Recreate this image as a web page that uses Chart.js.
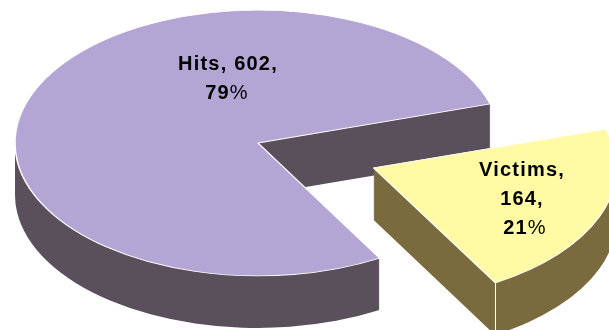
<!DOCTYPE html>
<html>
<head>
<meta charset="utf-8">
<style>
  html, body { margin: 0; padding: 0; background: #fff; overflow: hidden; }
  canvas { display: block; }
</style>
<script src="https://cdn.jsdelivr.net/npm/chart.js@4/dist/chart.umd.min.js"></script>
</head>
<body>
<canvas id="pie" width="609" height="330"></canvas>
<script>
const categories = ['Hits', 'Victims'];
const values = [602, 164];
const topColors = ['#B3A6D4', '#FFFAA3'];
const wallColors = ['#5A505C', '#7A6B3E'];

const total = values.reduce((a, b) => a + b, 0);
const percent = v => Math.round(v / total * 100);

// Squash factor of the pie, thickness of its side wall, pie radius
const TILT = 0.547;
const DEPTH = 52;
const RADIUS = 243;
// How far the second slice is pulled out from the centre
const PULL = 124;

// Text block for each slice: centre x, first line middle, line step, centre x of the percent line
const labelSpots = [
    { x: 228, y: 64, step: 29, pctX: 227, lines: i => [`${categories[i]}, ${values[i]},`] },
    { x: 522, y: 170, step: 29, pctX: 525, lines: i => [`${categories[i]},`, `${values[i]},`] }
];

// Where a slice apex ends up once its offset is applied (Chart.js moves by offset / 4)
function sliceOrigin(arc) {
    const mid = (arc.startAngle + arc.endAngle) / 2;
    const move = (arc.options.offset || 0) / 4;
    return { x: arc.x + Math.cos(mid) * move, y: arc.y + Math.sin(mid) * move };
}

const tiltedPie = {
    id: 'tiltedPie',
    // Arc elements grow a little with their offset when drawn, take that back so both slices keep one radius
    afterDatasetsUpdate(chart) {
        chart.getDatasetMeta(0).data.forEach(arc => {
            const move = (arc.options.offset || 0) / 4;
            const fix = 1 - Math.sin(Math.min(Math.PI, arc.circumference));
            arc.outerRadius = RADIUS - move * fix;
        });
    },
    beforeDatasetsDraw(chart) {
        const ctx = chart.ctx;
        const arcs = chart.getDatasetMeta(0).data;
        const cy = arcs[0].y;

        // Walls are the slices repeated downward as one path, tops get painted over them afterwards
        arcs.forEach((arc, i) => {
            const o = sliceOrigin(arc);
            ctx.beginPath();
            for (let d = DEPTH; d > 0; d--) {
                ctx.save();
                ctx.translate(0, cy + d);
                ctx.scale(1, TILT);
                ctx.translate(0, -cy);
                ctx.moveTo(o.x, o.y);
                ctx.arc(o.x, o.y, RADIUS, arc.startAngle, arc.endAngle);
                ctx.closePath();
                ctx.restore();
            }
            ctx.fillStyle = wallColors[i];
            ctx.fill();
        });

        ctx.save();
        ctx.translate(0, cy);
        ctx.scale(1, TILT);
        ctx.translate(0, -cy);
    },
    afterDatasetsDraw(chart) {
        const ctx = chart.ctx;
        ctx.restore();

        const arcs = chart.getDatasetMeta(0).data;
        const cy = arcs[0].y;

        // Corner seam on the pulled out slice
        const o = sliceOrigin(arcs[1]);
        const tipX = o.x + Math.cos(arcs[1].endAngle) * RADIUS;
        const tipY = cy + (o.y - cy + Math.sin(arcs[1].endAngle) * RADIUS) * TILT;
        ctx.save();
        ctx.strokeStyle = '#fff';
        ctx.lineWidth = 1;
        ctx.beginPath();
        ctx.moveTo(Math.round(tipX) + 0.5, tipY);
        ctx.lineTo(Math.round(tipX) + 0.5, tipY + DEPTH);
        ctx.stroke();
        ctx.restore();

        // Labels, the percent sign is set in the lighter weight
        ctx.save();
        ctx.fillStyle = '#000';
        ctx.textBaseline = 'middle';
        ctx.textAlign = 'left';
        ctx.letterSpacing = '1.2px';
        const bold = 'bold 20px "Liberation Sans", Arial, sans-serif';
        const light = '20px "Liberation Sans", Arial, sans-serif';
        labelSpots.forEach((spot, i) => {
            const lines = spot.lines(i);
            lines.forEach((line, n) => {
                ctx.font = bold;
                const w = ctx.measureText(line).width;
                ctx.fillText(line, spot.x - w / 2, spot.y + n * spot.step);
            });
            const pct = String(percent(values[i]));
            ctx.font = bold;
            const numW = ctx.measureText(pct).width;
            ctx.font = light;
            const signW = ctx.measureText('%').width;
            const left = spot.pctX - (numW + signW) / 2;
            const y = spot.y + lines.length * spot.step;
            ctx.font = bold;
            ctx.fillText(pct, left, y);
            ctx.font = light;
            ctx.fillText('%', left + numW, y);
        });
        ctx.restore();
    }
};

new Chart(document.getElementById('pie'), {
    type: 'pie',
    data: {
        labels: categories,
        datasets: [{
            data: values,
            backgroundColor: topColors,
            borderColor: '#fff',
            borderWidth: 1.5,
            offset: [0, PULL * 4],
            clip: false
        }]
    },
    options: {
        responsive: false,
        animation: false,
        rotation: 150,
        radius: RADIUS,
        layout: { padding: { right: 93, bottom: 44 } },
        plugins: {
            legend: { display: false },
            tooltip: { enabled: false }
        }
    },
    plugins: [tiltedPie]
});
</script>
</body>
</html>
